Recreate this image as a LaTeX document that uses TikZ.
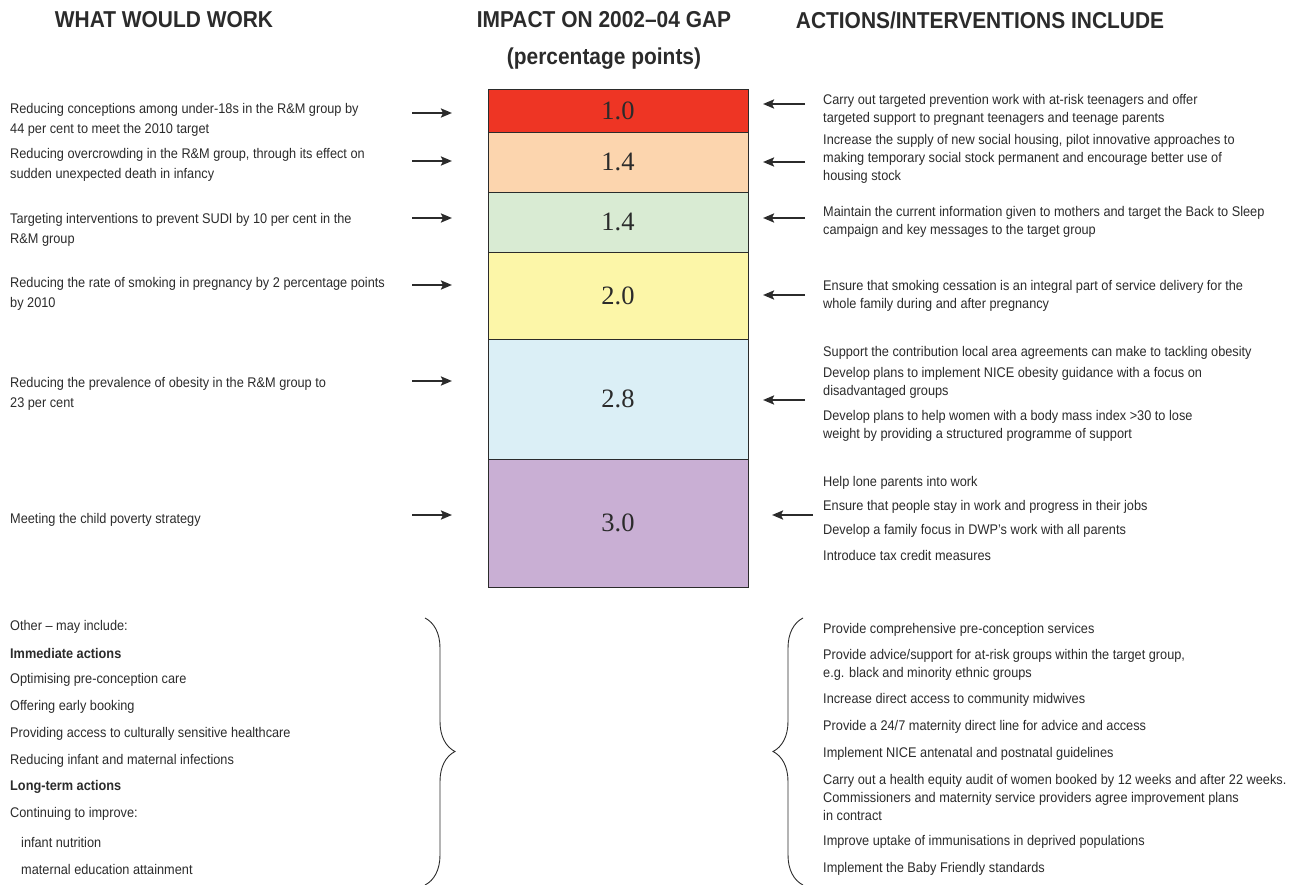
\documentclass[tikz,border=0pt]{standalone}
\usepackage{fontspec}
\setmainfont{Liberation Sans}[FakeStretch=0.91]
\newfontfamily\numfont{Liberation Serif}
\usetikzlibrary{arrows.meta,decorations.pathreplacing}

\definecolor{inkgray}{HTML}{2B2B2B}
\definecolor{bandred}{HTML}{EE3524}
\definecolor{bandorange}{HTML}{FCD5AE}
\definecolor{bandgreen}{HTML}{D9EBD3}
\definecolor{bandyellow}{HTML}{FCF6A8}
\definecolor{bandblue}{HTML}{DBEFF6}
\definecolor{bandpurple}{HTML}{C9AFD4}

\tikzset{
	head/.style={font=\fontsize{23}{26}\selectfont\bfseries, text=inkgray},
	band/.style={draw=inkgray, line width=0.9pt, minimum width=260pt, inner sep=0pt,
		font=\numfont\fontsize{26.5}{28}\selectfont, text=inkgray},
	item/.style={anchor=west, align=left, inner sep=0pt,
		font=\fontsize{14}{18}\selectfont, text=inkgray},
	witem/.style={item, font=\fontsize{14}{20}\selectfont},
	bolditem/.style={item, font=\fontsize{14}{18}\selectfont\bfseries},
	pointer/.style={line width=2.2pt, draw=inkgray, -{Stealth[length=11pt,width=9pt,inset=2pt]}},
	curly/.style={decorate, decoration={brace, amplitude=30pt}, line width=0.9pt, draw=inkgray}
}

\begin{document}
\begin{tikzpicture}[x=1pt, y=-1pt]
	\useasboundingbox (0,0) rectangle (1300,885);

	% column headings
	\node[head] (hwork) at (164,20) {WHAT WOULD WORK};
	\node[head] (himpact) at (604,20) {IMPACT ON 2002--04 GAP};
	\node[head] (hunit) at (604,59) {(percentage points)};
	\node[head] (hact) at (980,20) {ACTIONS/INTERVENTIONS INCLUDE};

	% stacked bar of the gap
	\node[band, fill=bandred, minimum height=43pt] (b1) at (618,110.5) {1.0};
	\node[band, fill=bandorange, minimum height=60pt] (b2) at (618,162) {1.4};
	\node[band, fill=bandgreen, minimum height=60pt] (b3) at (618,222) {1.4};
	\node[band, fill=bandyellow, minimum height=87pt] (b4) at (618,295.5) {2.0};
	\node[band, fill=bandblue, minimum height=120pt] (b5) at (618,399) {2.8};
	\node[band, fill=bandpurple, minimum height=128pt] (b6) at (618,523) {3.0};

	% what would work
	\node[witem] (w1) at (10,120) {Reducing conceptions among under-18s in the R\&M group by\\44 per cent to meet the 2010 target};
	\node[witem] (w2) at (10,165) {Reducing overcrowding in the R\&M group, through its effect on\\sudden unexpected death in infancy};
	\node[witem] (w3) at (10,230) {Targeting interventions to prevent SUDI by 10 per cent in the\\R\&M group};
	\node[witem] (w4) at (10,294) {Reducing the rate of smoking in pregnancy by 2 percentage points\\by 2010};
	\node[witem] (w5) at (10,394) {Reducing the prevalence of obesity in the R\&M group to\\23 per cent};
	\node[witem] (w6) at (10,520) {Meeting the child poverty strategy};

	% actions and interventions
	\node[item] (a1) at (823,110) {Carry out targeted prevention work with at-risk teenagers and offer\\targeted support to pregnant teenagers and teenage parents};
	\node[item] (a2) at (823,158.5) {Increase the supply of new social housing, pilot innovative approaches to\\making temporary social stock permanent and encourage better use of\\housing stock};
	\node[item] (a3) at (823,221.5) {Maintain the current information given to mothers and target the Back to Sleep\\campaign and key messages to the target group};
	\node[item] (a4) at (823,295.5) {Ensure that smoking cessation is an integral part of service delivery for the\\whole family during and after pregnancy};
	\node[item] (a5) at (823,353) {Support the contribution local area agreements can make to tackling obesity};
	\node[item] (a6) at (823,383) {Develop plans to implement NICE obesity guidance with a focus on\\disadvantaged groups};
	\node[item] (a7) at (823,425.5) {Develop plans to help women with a body mass index >30 to lose\\weight by providing a structured programme of support};
	\node[item] (a8) at (823,483) {Help lone parents into work};
	\node[item] (a9) at (823,507) {Ensure that people stay in work and progress in their jobs};
	\node[item] (a10) at (823,531) {Develop a family focus in DWP's work with all parents};
	\node[item] (a11) at (823,555) {Introduce tax credit measures};

	% arrows into the bar
	\coordinate (wl1) at (412,113); \coordinate (wr1) at (452,113);
	\coordinate (wl2) at (412,161); \coordinate (wr2) at (452,161);
	\coordinate (wl3) at (412,218); \coordinate (wr3) at (452,218);
	\coordinate (wl4) at (412,285); \coordinate (wr4) at (452,285);
	\coordinate (wl5) at (412,381); \coordinate (wr5) at (452,381);
	\coordinate (wl6) at (412,515); \coordinate (wr6) at (452,515);
	\draw[pointer] (wl1) -- (wr1);
	\draw[pointer] (wl2) -- (wr2);
	\draw[pointer] (wl3) -- (wr3);
	\draw[pointer] (wl4) -- (wr4);
	\draw[pointer] (wl5) -- (wr5);
	\draw[pointer] (wl6) -- (wr6);

	\coordinate (ar1) at (805,104); \coordinate (al1) at (763,104);
	\coordinate (ar2) at (805,162); \coordinate (al2) at (763,162);
	\coordinate (ar3) at (805,218); \coordinate (al3) at (763,218);
	\coordinate (ar4) at (805,295); \coordinate (al4) at (763,295);
	\coordinate (ar5) at (805,400); \coordinate (al5) at (763,400);
	\coordinate (ar6) at (813,515); \coordinate (al6) at (772,515);
	\draw[pointer] (ar1) -- (al1);
	\draw[pointer] (ar2) -- (al2);
	\draw[pointer] (ar3) -- (al3);
	\draw[pointer] (ar4) -- (al4);
	\draw[pointer] (ar5) -- (al5);
	\draw[pointer] (ar6) -- (al6);

	% other measures
	\node[item] (o1) at (10,627) {Other -- may include:};
	\node[bolditem] (o2) at (10,653) {Immediate actions};
	\node[item] (o3) at (10,680) {Optimising pre-conception care};
	\node[item] (o4) at (10,707) {Offering early booking};
	\node[item] (o5) at (10,734) {Providing access to culturally sensitive healthcare};
	\node[item] (o6) at (10,761) {Reducing infant and maternal infections};
	\node[bolditem] (o7) at (10,787) {Long-term actions};
	\node[item] (o8) at (10,814) {Continuing to improve:};
	\node[item] (o9) at (21,842) {infant nutrition};
	\node[item] (o10) at (21,869) {maternal education attainment};

	\node[item] (p1) at (823,630) {Provide comprehensive pre-conception services};
	\node[item] (p2) at (823,665) {Provide advice/support for at-risk groups within the target group,\\e.g. black and minority ethnic groups};
	\node[item] (p3) at (823,700) {Increase direct access to community midwives};
	\node[item] (p4) at (823,727) {Provide a 24/7 maternity direct line for advice and access};
	\node[item] (p5) at (823,754) {Implement NICE antenatal and postnatal guidelines};
	\node[item] (p6) at (823,797.5) {Carry out a health equity audit of women booked by 12 weeks and after 22 weeks.\\Commissioners and maternity service providers agree improvement plans\\in contract};
	\node[item] (p7) at (823,842) {Improve uptake of immunisations in deprived populations};
	\node[item] (p8) at (823,869) {Implement the Baby Friendly standards};

	% braces
	\coordinate (lbt) at (425,618); \coordinate (lbb) at (425,885);
	\coordinate (rbt) at (803,618); \coordinate (rbb) at (803,885);
	\draw[curly] (lbt) -- (lbb);
	\draw[curly] (rbb) -- (rbt);
\end{tikzpicture}
\end{document}
